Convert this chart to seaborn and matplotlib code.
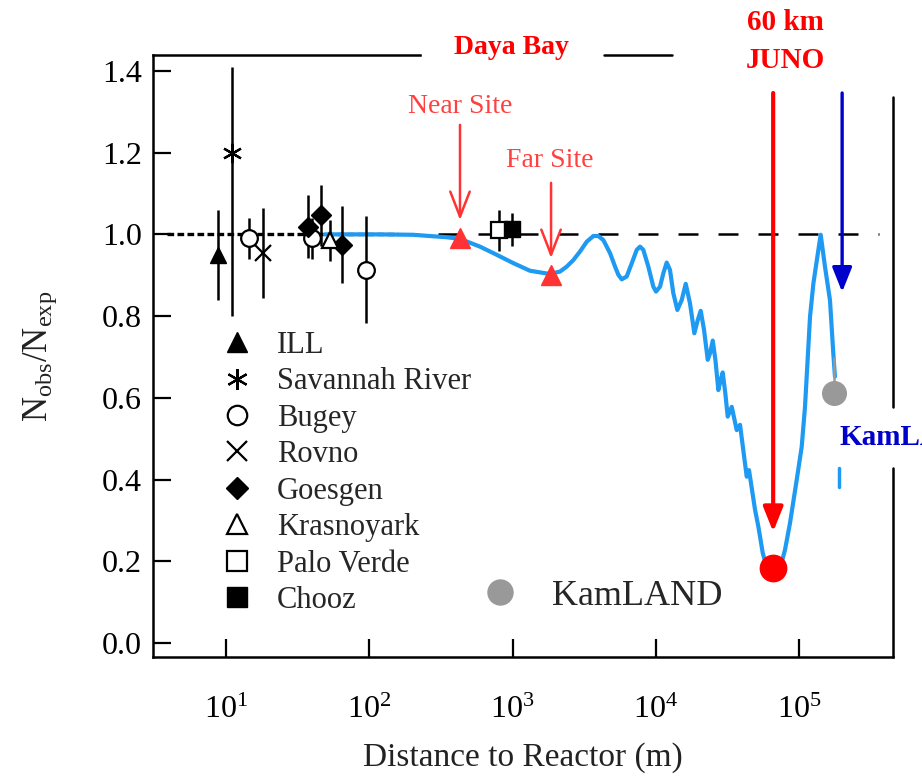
import numpy as np
import pandas as pd
import matplotlib
matplotlib.use("Agg")
import matplotlib.pyplot as plt
from matplotlib.lines import Line2D
from matplotlib.ticker import NullLocator
import seaborn as sns

# ---------------- data ----------------
ill_x = [8.75];   ill_y = [0.95];   ill_err = [0.11]
sr_x = [11.1];    sr_y = [1.20];    sr_err_lo = [0.40]; sr_err_hi = [0.21]
bugey_x = [14.5, 39.7, 94.4]; bugey_y = [0.99, 0.99, 0.914]; bugey_err = [0.05, 0.05, 0.13]
rovno_x = [18.0]; rovno_y = [0.954]; rovno_err = [0.11]
goesgen_x = [37.5, 46.0, 64.1]; goesgen_y = [1.019, 1.047, 0.975]; goesgen_err = [0.077, 0.075, 0.095]
kras_x = [53.2];  kras_y = [0.986]; kras_err = [0.05]
pv_x = [800];     pv_y = [1.01];    pv_err = [0.05]
chooz_x = [986];  chooz_y = [1.012]; chooz_err = [0.04]
kam_x = [1.76e5]; kam_y = [0.611];  kam_err_lo = [0.02]; kam_err_hi = [0.09]
dyb_x = [430, 1845]; dyb_y = [0.99, 0.90]
juno_x = [6.6e4]; juno_y = [0.183]

curve_x = [49, 119, 202, 347, 430, 593, 776, 1008, 1324, 1827,
           2146, 2388, 2657, 2959, 3296, 3666, 3972, 4307, 4798, 5200, 5483, 5786,
           6269, 6794, 7362, 7765, 8190, 8875, 9617, 10040, 10710, 11300, 11920,
           12570, 13260, 14150, 15170, 16190, 17340, 18590, 19630, 20600, 21730,
           23060, 23930, 24990, 26080, 27350, 28410, 29330, 30590, 31790,
           33900, 36740, 38740, 43150, 44770, 49320, 52020,
           55830, 58880, 65830, 74860, 79840, 86470, 96340, 104400, 110100, 119400,
           126000, 136500, 141700, 151800, 164500, 173500, 178200]
curve_y = [1.0, 1.0, 0.999, 0.993, 0.989, 0.970, 0.950, 0.930, 0.911, 0.903,
           0.909, 0.921, 0.937, 0.958, 0.982, 0.996, 0.996, 0.986, 0.954, 0.921, 0.901, 0.890,
           0.897, 0.929, 0.962, 0.970, 0.962, 0.921, 0.872, 0.860, 0.872, 0.905, 0.931,
           0.913, 0.856, 0.815, 0.839, 0.879, 0.831, 0.758, 0.790, 0.813, 0.766,
           0.693, 0.709, 0.740, 0.693, 0.619, 0.644, 0.662, 0.611, 0.554,
           0.578, 0.521, 0.534, 0.407, 0.423, 0.326, 0.285,
           0.220, 0.191, 0.159, 0.191, 0.228, 0.293, 0.399, 0.480, 0.578, 0.799,
           0.880, 0.962, 0.999, 0.921, 0.839, 0.709, 0.652]
tail_x = [1.9e5, 1.9e5]
tail_y = [0.428, 0.382]

ref_dot_x = [3.9, 160]
ref_dash_x = [160, 3.6e5]
ref_y = [1.0, 1.0]

yticks = [0.0, 0.2, 0.4, 0.6, 0.8, 1.0, 1.2, 1.4]
xticks = [1e1, 1e2, 1e3, 1e4, 1e5]

legend_labels = ["ILL", "Savannah River", "Bugey", "Rovno", "Goesgen",
                 "Krasnoyark", "Palo Verde", "Chooz"]

# annotation anchors (x, y_tail, y_tip)
near_arrow = (430, 1.268, 1.035)
far_arrow = (1858, 1.126, 0.942)
juno_arrow = (6.6e4, 1.346, 0.272)
kam_arrow = (2.0e5, 1.346, 0.859)

# ---------------- style ----------------
sns.set_theme(style="ticks")
plt.rcParams["font.family"] = ["Liberation Serif", "DejaVu Serif"]
plt.rcParams["mathtext.fontset"] = "custom"
plt.rcParams["mathtext.rm"] = "Liberation Serif"
plt.rcParams["mathtext.it"] = "Liberation Serif:italic"
plt.rcParams["mathtext.bf"] = "Liberation Serif:bold"

fig = plt.figure(figsize=(9.22, 7.77), dpi=100)
ax = fig.add_axes([153 / 922, 1 - 657 / 777, 740 / 922, 602 / 777])
ax.set_xscale("log")

XMIN, XMAX = 3.093, 4.53e5
YMIN, YMAX = -0.0343, 1.439

# reference line at 1
ax.plot(ref_dot_x, ref_y, color="black", lw=2.4, dashes=(2.0, 1.0), zorder=1)
ax.plot(ref_dash_x, ref_y, color="black", lw=1.8, dashes=(8, 8), zorder=1)

# oscillation curve
curve_df = pd.DataFrame({"L": curve_x, "P": curve_y})
sns.lineplot(data=curve_df, x="L", y="P", ax=ax, sort=False, estimator=None,
             color="#1e9af2", lw=3.0, zorder=3)
ax.plot(tail_x, tail_y, color="#1e9af2", lw=2.5, zorder=3)

ekw = dict(ecolor="black", elinewidth=1.8, capsize=0, linestyle="none", zorder=4)
ax.errorbar(ill_x, ill_y, yerr=ill_err, fmt="^", ms=12, mfc="black", mec="black", **ekw)
ax.errorbar(sr_x, sr_y, yerr=[sr_err_lo, sr_err_hi], fmt="none", **ekw)
ax.plot(sr_x, sr_y, marker=(6, 2, 0), ms=14, mew=1.6, color="black", ls="none", zorder=5)
ax.errorbar(bugey_x, bugey_y, yerr=bugey_err, fmt="o", ms=12, mfc="white", mec="black", mew=1.6, **ekw)
ax.errorbar(rovno_x, rovno_y, yerr=rovno_err, fmt="x", ms=12, mec="black", mew=1.6, **ekw)
ax.errorbar(goesgen_x, goesgen_y, yerr=goesgen_err, fmt="D", ms=10, mfc="black", mec="black", **ekw)
ax.errorbar(kras_x, kras_y, yerr=kras_err, fmt="^", ms=12, mfc="white", mec="black", mew=1.6, **ekw)
ax.errorbar(pv_x, pv_y, yerr=pv_err, fmt="s", ms=12, mfc="white", mec="black", mew=1.6, **ekw)
ax.errorbar(chooz_x, chooz_y, yerr=chooz_err, fmt="s", ms=12, mfc="black", mec="black", **ekw)
ax.errorbar(kam_x, kam_y, yerr=[kam_err_lo, kam_err_hi], fmt="o", ms=17, mfc="#999999",
            mec="#999999", ecolor="#999999", elinewidth=1.8, capsize=0, ls="none", zorder=4)

ax.plot(dyb_x, dyb_y, "^", ms=15, color="#ff3333", ls="none", zorder=6)
ax.plot(juno_x, juno_y, "o", ms=19, color="#ff0000", ls="none", zorder=6)

# arrows
for arr, col, style, lw in [
    (near_arrow, "#ff3333", "->,head_length=0.9,head_width=0.35", 1.8),
    (far_arrow, "#ff3333", "->,head_length=0.9,head_width=0.35", 1.8),
    (juno_arrow, "#ff0000", "-|>,head_length=0.75,head_width=0.3", 3.0),
    (kam_arrow, "#0000cc", "-|>,head_length=0.75,head_width=0.3", 2.4),
]:
    ax.annotate("", xy=(arr[0], arr[2]), xytext=(arr[0], arr[1]),
                arrowprops=dict(arrowstyle=style, color=col, lw=lw, shrinkA=0, shrinkB=0,
                                mutation_scale=20), zorder=7)

# texts
ax.text(430, 1.314, "Near Site", color="#ff4040", fontsize=20, ha="center", va="center")
ax.text(1820, 1.182, "Far Site", color="#ff4040", fontsize=20, ha="center", va="center")
ax.text(990, 1.457, "Daya Bay", color="#ff0000", fontsize=20, fontweight="bold",
        ha="center", va="center", clip_on=False)
ax.text(7.98e4, 1.518, "60 km", color="#ff0000", fontsize=21, fontweight="bold",
        ha="center", va="center", clip_on=False)
ax.text(7.98e4, 1.425, "JUNO", color="#ff0000", fontsize=21, fontweight="bold",
        ha="center", va="center", clip_on=False)
ax.text(1.93e5, 0.504, "KamLAND", color="#0000cc", fontsize=21, fontweight="bold",
        ha="left", va="center", clip_on=False)

# legends
handles = [
    Line2D([], [], marker="^", ms=15, color="black", ls="none"),
    Line2D([], [], marker=(6, 2, 0), ms=15, mew=1.6, color="black", ls="none"),
    Line2D([], [], marker="o", ms=14, mfc="white", mec="black", mew=1.6, ls="none"),
    Line2D([], [], marker="x", ms=14, mec="black", mew=1.6, ls="none"),
    Line2D([], [], marker="D", ms=11, color="black", ls="none"),
    Line2D([], [], marker="^", ms=15, mfc="white", mec="black", mew=1.6, ls="none"),
    Line2D([], [], marker="s", ms=14, mfc="white", mec="black", mew=1.6, ls="none"),
    Line2D([], [], marker="s", ms=14, color="black", ls="none"),
]
leg1 = ax.legend(handles, legend_labels, loc="upper left", bbox_to_anchor=(0.0928, 0.542),
                 frameon=False, fontsize=22, handlelength=1.0, handletextpad=0.81,
                 labelspacing=0.245, borderpad=0, borderaxespad=0)
ax.add_artist(leg1)
kh = [Line2D([], [], marker="o", ms=18, color="#999999", ls="none")]
ax.legend(kh, ["KamLAND"], loc="center left", bbox_to_anchor=(0.4446, 0.101),
          frameon=False, fontsize=26, handlelength=1.0, handletextpad=0.94,
          borderpad=0, borderaxespad=0)

# axes
ax.set_xlim(XMIN, XMAX)
ax.set_ylim(YMIN, YMAX)
ax.set_yticks(yticks)
ax.set_yticklabels([f"{v:.1f}" for v in yticks])
ax.set_xticks(xticks)
ax.xaxis.set_minor_locator(NullLocator())
ax.tick_params(direction="in", length=13, width=1.6, labelsize=23, color="black",
               labelcolor="black")
ax.tick_params(axis="y", pad=8)
ax.tick_params(axis="x", pad=28)
ax.set_xlabel("Distance to Reactor (m)", fontsize=24, labelpad=12, color="#222222")
ax.set_ylabel(r"N$_{\mathrm{obs}}$/N$_{\mathrm{exp}}$", fontsize=25, labelpad=31, color="#222222")

for s in ax.spines.values():
    s.set_linewidth(1.8)
    s.set_color("black")
ax.spines["top"].set_bounds(XMIN, 226)
ax.spines["right"].set_visible(False)
ax.plot([1, 1], [YMIN, 0.428], color="black", lw=1.8, transform=ax.get_yaxis_transform(),
        clip_on=False)
ax.plot([1, 1], [0.578, 1.336], color="black", lw=1.8, transform=ax.get_yaxis_transform(),
        clip_on=False)
ax.plot([4355, 12970], [1, 1], color="black", lw=1.8, transform=ax.get_xaxis_transform(),
        clip_on=False)

fig.savefig("out.png", dpi=100)
